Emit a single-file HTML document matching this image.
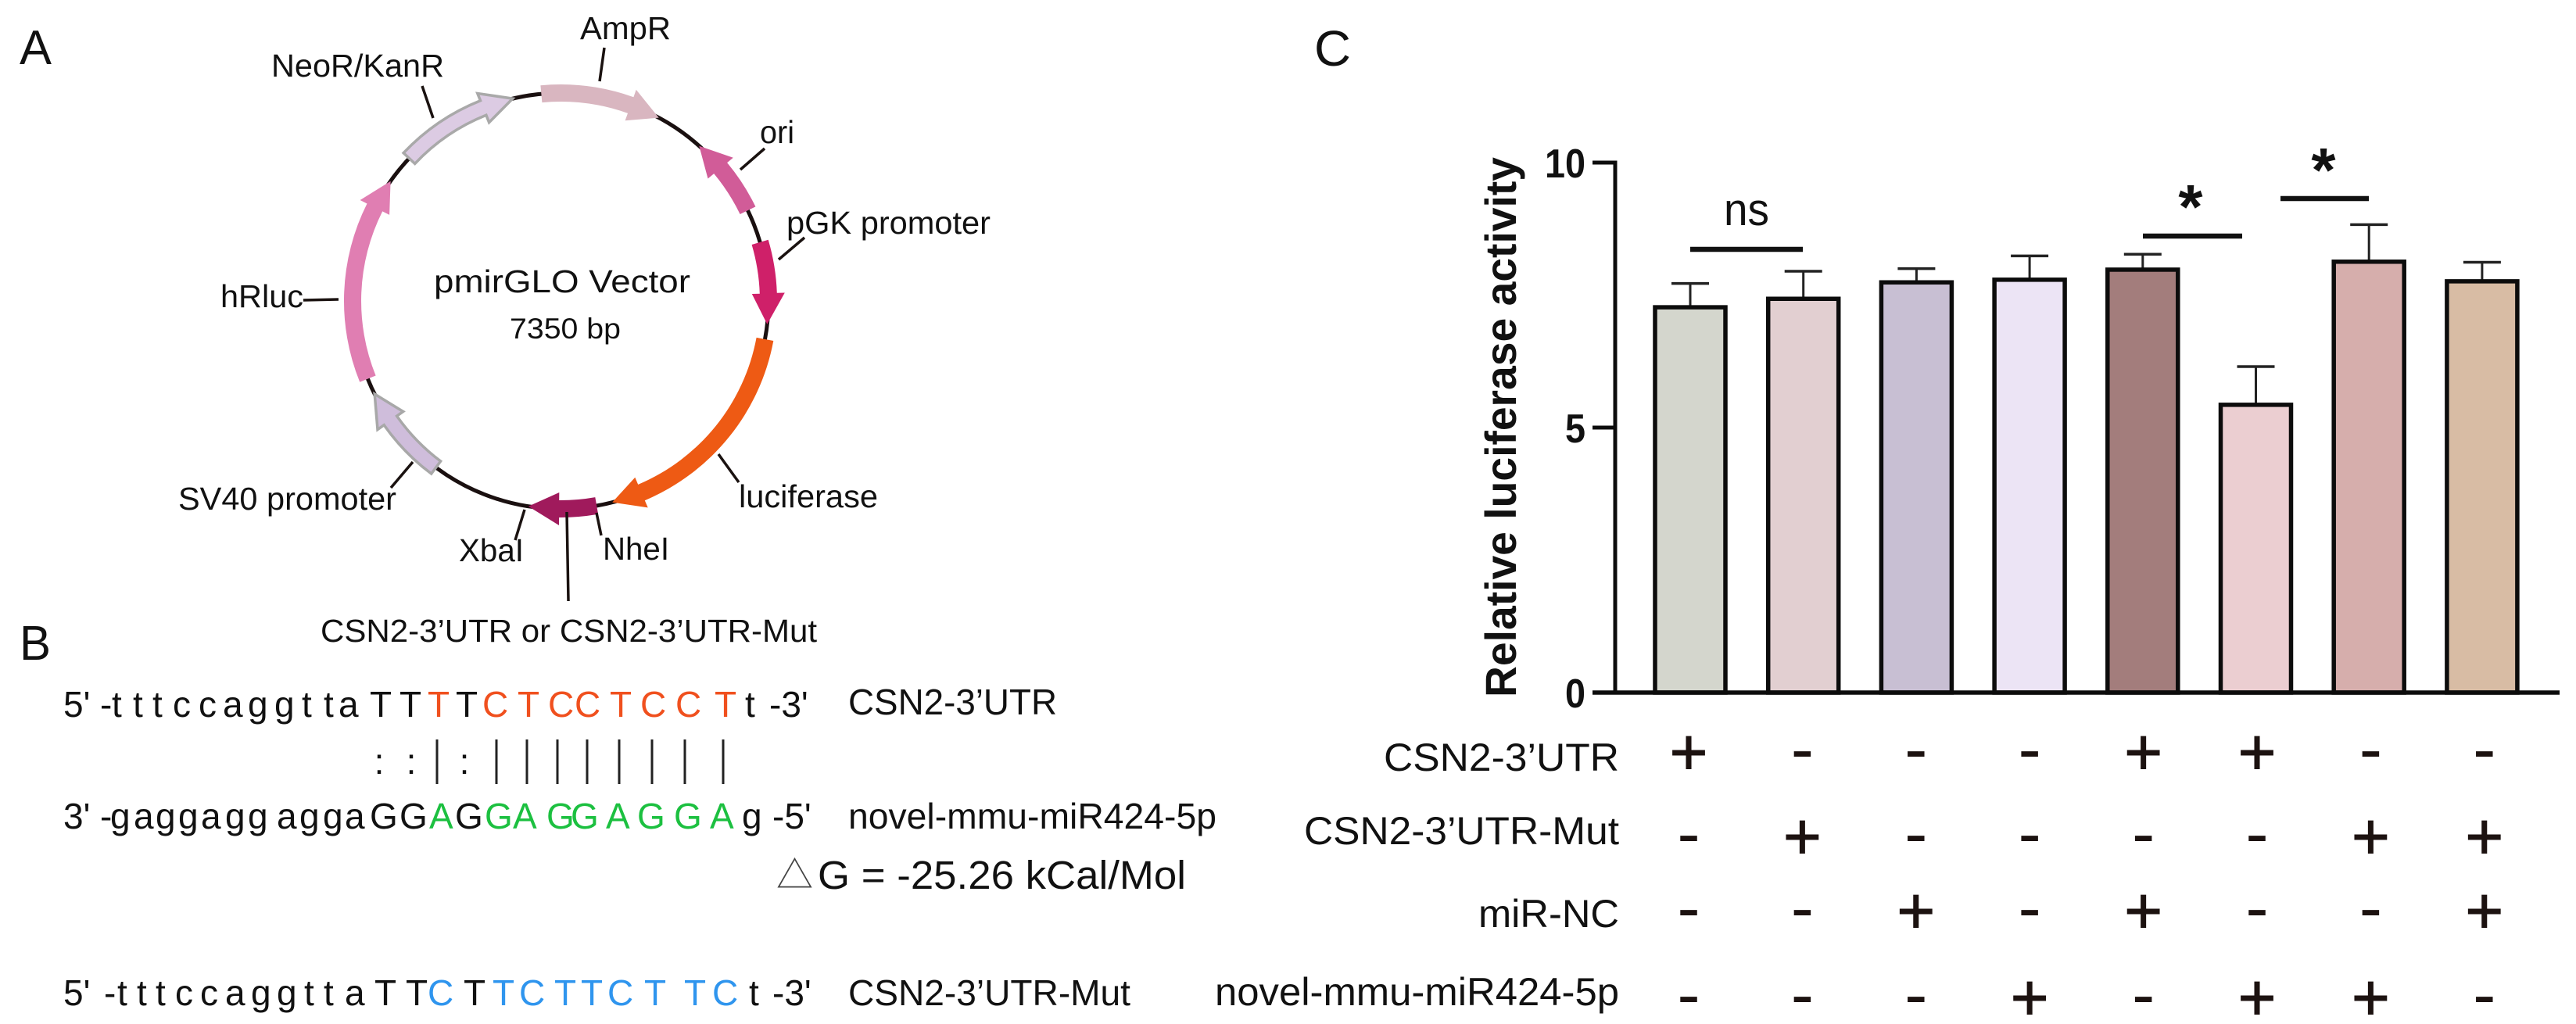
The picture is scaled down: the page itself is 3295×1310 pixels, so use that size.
<!DOCTYPE html>
<html lang="en">
<head>
<meta charset="utf-8">
<title>pmirGLO vector, binding site and luciferase activity</title>
<style>
html,body{margin:0;padding:0;background:#fff;}
svg{display:block;}
text{font-family:"Liberation Sans","Noto Sans CJK SC",sans-serif;fill:#111;}
.lbl{font-size:41px;}
.seq{font-size:46px;}
.leader{stroke:#1a1210;stroke-width:3.5;fill:none;}
.pair{stroke:#222;stroke-width:3;}
.red{fill:#f0501e;}
.grn{fill:#1cc040;}
.blu{fill:#2f95ee;}
</style>
</head>
<body>
<svg id="fig" xmlns="http://www.w3.org/2000/svg" width="3295" height="1310" viewBox="0 0 3295 1310">
<rect width="3295" height="1310" fill="#fff"/>

<g id="panel-a">
  <text x="25" y="82" font-size="62" textLength="41" lengthAdjust="spacingAndGlyphs">A</text>
  <circle cx="717" cy="385" r="266" fill="none" stroke="#1a1010" stroke-width="5"/>
  <g id="features"></g>

  <line class="leader" x1="773" y1="61" x2="767" y2="104"/>
  <line class="leader" x1="540" y1="110" x2="554" y2="151"/>
  <line class="leader" x1="978" y1="190" x2="947" y2="217"/>
  <line class="leader" x1="1029" y1="304" x2="996" y2="332"/>
  <line class="leader" x1="388" y1="384" x2="433" y2="383"/>
  <line class="leader" x1="919" y1="581" x2="945" y2="617"/>
  <line class="leader" x1="528" y1="591" x2="500" y2="624"/>
  <line class="leader" x1="671" y1="652" x2="659" y2="691"/>
  <line class="leader" x1="763" y1="656" x2="769" y2="685"/>
  <line class="leader" x1="725" y1="655" x2="727" y2="769"/>

  <text class="lbl" x="742" y="50" textLength="116" lengthAdjust="spacingAndGlyphs">AmpR</text>
  <text class="lbl" x="347" y="98" textLength="221" lengthAdjust="spacingAndGlyphs">NeoR/KanR</text>
  <text class="lbl" x="972" y="183" textLength="44" lengthAdjust="spacingAndGlyphs">ori</text>
  <text class="lbl" x="1006" y="299" textLength="261" lengthAdjust="spacingAndGlyphs">pGK promoter</text>
  <text class="lbl" x="555" y="374" textLength="328" lengthAdjust="spacingAndGlyphs">pmirGLO Vector</text>
  <text class="lbl" x="652" y="433" style="font-size:37px" textLength="142" lengthAdjust="spacingAndGlyphs">7350 bp</text>
  <text class="lbl" x="282" y="393" textLength="106" lengthAdjust="spacingAndGlyphs">hRluc</text>
  <text class="lbl" x="945" y="649" textLength="178" lengthAdjust="spacingAndGlyphs">luciferase</text>
  <text class="lbl" x="228" y="652" textLength="279" lengthAdjust="spacingAndGlyphs">SV40 promoter</text>
  <text class="lbl" x="587" y="718" textLength="83" lengthAdjust="spacingAndGlyphs">XbaI</text>
  <text class="lbl" x="771" y="716" textLength="85" lengthAdjust="spacingAndGlyphs">NheI</text>
  <text class="lbl" x="410" y="821" textLength="635" lengthAdjust="spacingAndGlyphs">CSN2-3’UTR or CSN2-3’UTR-Mut</text>
</g>

<g id="panel-b">
  <text x="25" y="844" font-size="62" textLength="40" lengthAdjust="spacingAndGlyphs">B</text>

  <text class="seq" y="917"><tspan x="81">5'</tspan><tspan x="128 143 170 195 221 254 285 317 351 386 414 433 473 511">-tttccaggttaTT</tspan><tspan class="red" x="547">T</tspan><tspan x="583">T</tspan><tspan class="red" x="617 662 701 735 780 819 864 914">CTCCTCCT</tspan><tspan x="953">t</tspan><tspan x="984">-3'</tspan></text>

  <g>
    <text x="485" y="990" font-size="46" text-anchor="middle">:</text>
    <text x="526" y="990" font-size="46" text-anchor="middle">:</text>
    <text x="594" y="990" font-size="46" text-anchor="middle">:</text>
    <line class="pair" x1="559" y1="946" x2="559" y2="1003"/>
    <line class="pair" x1="635" y1="946" x2="635" y2="1003"/>
    <line class="pair" x1="674" y1="946" x2="674" y2="1003"/>
    <line class="pair" x1="713" y1="946" x2="713" y2="1003"/>
    <line class="pair" x1="751" y1="946" x2="751" y2="1003"/>
    <line class="pair" x1="792" y1="946" x2="792" y2="1003"/>
    <line class="pair" x1="834" y1="946" x2="834" y2="1003"/>
    <line class="pair" x1="876" y1="946" x2="876" y2="1003"/>
    <line class="pair" x1="925" y1="946" x2="925" y2="1003"/>
  </g>

  <text class="seq" y="1060"><tspan x="81">3'</tspan><tspan x="128 141 171 199 228 257 288 317 354 383 413 441 473 511">-gaggaggaggaGG</tspan><tspan class="grn" x="549">A</tspan><tspan x="582">G</tspan><tspan class="grn" x="620 656 699 730 775 815 862 908">GAGGAGGA</tspan><tspan x="949">g</tspan><tspan x="988">-5'</tspan></text>

  <text class="seq" y="1286"><tspan x="81">5'</tspan><tspan x="133 150 175 199 224 256 288 321 354 389 414 441 479 519">-tttccaggttaTT</tspan><tspan class="blu" x="547">C</tspan><tspan x="593">T</tspan><tspan class="blu" x="630 664 709 743 777 824 875 911">TCTTCTTC</tspan><tspan x="958">t</tspan><tspan x="988">-3'</tspan></text>

  <text class="seq" x="1085" y="914" textLength="267" lengthAdjust="spacingAndGlyphs">CSN2-3’UTR</text>
  <text class="seq" x="1085" y="1060" textLength="471" lengthAdjust="spacingAndGlyphs">novel-mmu-miR424-5p</text>
  <text class="seq" x="1085" y="1286" textLength="361" lengthAdjust="spacingAndGlyphs">CSN2-3’UTR-Mut</text>

  <text x="993" y="1136" font-size="47" style="font-family:'Noto Sans CJK SC','Liberation Sans',sans-serif;fill:#444">△</text>
  <text x="1046" y="1137" font-size="51" textLength="471" lengthAdjust="spacingAndGlyphs">G = -25.26 kCal/Mol</text>
</g>

<g id="panel-c">
  <text x="1681" y="84" font-size="64" textLength="47" lengthAdjust="spacingAndGlyphs">C</text>
  <text transform="translate(1939,892) rotate(-90)" font-size="56" font-weight="700" textLength="691" lengthAdjust="spacingAndGlyphs">Relative luciferase activity</text>
  <g id="bars"></g>
  <g id="axes"></g>

  <line x1="2162" y1="319" x2="2306" y2="319" stroke="#111" stroke-width="6.5"/>
  <text x="2205" y="288" font-size="58" textLength="58" lengthAdjust="spacingAndGlyphs">ns</text>
  <line x1="2741" y1="302" x2="2868" y2="302" stroke="#111" stroke-width="6.5"/>
  <text x="2802" y="292" font-size="80" font-weight="700" text-anchor="middle">*</text>
  <line x1="2917" y1="254" x2="3030" y2="254" stroke="#111" stroke-width="6.5"/>
  <text x="2972" y="245" font-size="80" font-weight="700" text-anchor="middle">*</text>

  <text x="1770" y="986" font-size="50" textLength="301" lengthAdjust="spacingAndGlyphs">CSN2-3’UTR</text>
  <text x="1668" y="1080" font-size="50" textLength="403" lengthAdjust="spacingAndGlyphs">CSN2-3’UTR-Mut</text>
  <text x="1891" y="1186" font-size="50" textLength="180" lengthAdjust="spacingAndGlyphs">miR-NC</text>
  <text x="1554" y="1286" font-size="50" textLength="517" lengthAdjust="spacingAndGlyphs">novel-mmu-miR424-5p</text>
  <g id="design"></g>
</g>
</svg>

<script>
// Bar chart data (panel C)
const categories = ['group-1','group-2','group-3','group-4','group-5','group-6','group-7','group-8'];
const meanValues = [7.27, 7.43, 7.74, 7.79, 7.98, 5.43, 8.13, 7.76];
const errorTops = [7.72, 7.95, 8.00, 8.24, 8.27, 6.15, 8.83, 8.12];
const barColors = ['#d4d6cd','#e2cfd1','#c8bfd3','#ece4f5','#a37d7c','#ebced1','#d6aeac','#d8bca4'];
const yTickValues = [0, 5, 10];
const yTickLabels = ['0', '5', '10'];
const rowUtr = ['+','-','-','-','+','+','-','-'];
const rowUtrMut = ['-','+','-','-','-','-','+','+'];
const rowMirNc = ['-','-','+','-','+','-','-','+'];
const rowMirna = ['-','-','-','+','-','+','+','-'];

// Plasmid features: clockwise degrees from 12 o'clock
const featureNames = ['ampr','neor-kanr','ori','pgk-promoter','luciferase','xbai-nhei-insert','sv40-promoter','hrluc'];
const featureTail = [-5.3, -46.7, 64.2, 73.6, 100.6, 170, 216.8, 248];
const featureTip = [28.2, -13.3, 41.8, 96.4, 165.6, 188.9, 243.4, 305.2];
const featureFill = ['#d9b6c0','#dccbe3','#d15c98','#cf2069','#ee5a14','#a01a5c','#cfbddb','#e07eb2'];
const featureStroke = ['none','#a9a9a9','none','none','none','none','#a8a8a8','none'];

const NS = 'http://www.w3.org/2000/svg';
function make(tag, attrs, parent){
  const el = document.createElementNS(NS, tag);
  for (const k in attrs) el.setAttribute(k, attrs[k]);
  parent.appendChild(el);
  return el;
}

// Axis functions
const yBase = 886, yPerUnit = 67.8;
function yScale(v){ return yBase - v * yPerUnit; }
function xBar(i){ return 2162 + i * 144.7; }
function xCol(i){ return 2160 + i * 145.4; }
const barWidth = 90;

const barsG = document.getElementById('bars');
categories.forEach(function(cat, i){
  const cx = xBar(i);
  const err = make('line', {x1:cx, x2:cx, y1:yScale(errorTops[i]), y2:yScale(meanValues[i]), stroke:'#222', 'stroke-width':3}, barsG);
  
  
  const cap = make('line', {x1:cx-24, x2:cx+24, y1:yScale(errorTops[i]), y2:yScale(errorTops[i]), stroke:'#222', 'stroke-width':3.5}, barsG);
  
  
  const bar = make('rect', {x:cx-barWidth/2, y:yScale(meanValues[i]), width:barWidth, height:yBase-yScale(meanValues[i]), fill:barColors[i], stroke:'#0c0c0c', 'stroke-width':5.5}, barsG);
  
  
});

const axesG = document.getElementById('axes');
const yAxisLine = make('line', {x1:2066, x2:2066, y1:yScale(10)-2.5, y2:yBase+2.5, stroke:'#0c0c0c', 'stroke-width':5}, axesG);


const xAxisLine = make('line', {x1:2037, x2:3274, y1:yBase, y2:yBase, stroke:'#0c0c0c', 'stroke-width':5.5}, axesG);


yTickValues.forEach(function(v, i){
  const tick = make('line', {x1:2037, x2:2066, y1:yScale(v), y2:yScale(v), stroke:'#0c0c0c', 'stroke-width':5}, axesG);
  
  
  const label = make('text', {x:2028, y:yScale(v)+19, 'text-anchor':'end', 'font-size':52, 'font-weight':700, textLength:26*yTickLabels[i].length, lengthAdjust:'spacingAndGlyphs'}, axesG);
  
  
  label.textContent = yTickLabels[i];
});

// Treatment design grid
const designRows = [rowUtr, rowUtrMut, rowMirNc, rowMirna];
const rowCenters = [962, 1070, 1165, 1276];
const designG = document.getElementById('design');
designRows.forEach(function(row, r){
  row.forEach(function(sign, c){
    const isPlus = sign === '+';
    const mark = make('text', {x:xCol(c), y:rowCenters[r] + (isPlus ? 29 : 26), 'text-anchor':'middle', 'font-size': isPlus ? 84 : 88, style:'fill:#1c1210;stroke:#1c1210;stroke-width:' + (isPlus ? 1 : 0)}, designG);
    
    
    mark.textContent = sign;
  });
});

// Plasmid arrows
const pcx = 717, pcy = 385, pr = 266;
function polar(deg, rad){
  const a = deg * Math.PI / 180;
  return [pcx + rad * Math.sin(a), pcy - rad * Math.cos(a)];
}
function pt(p){ return p[0].toFixed(1) + ' ' + p[1].toFixed(1); }
function arrowPath(tail, tip, half, headHalf, headDeg){
  const dir = tip > tail ? 1 : -1;
  const neck = tip - dir * headDeg;
  const sweepOut = dir > 0 ? 1 : 0;
  const sweepIn = dir > 0 ? 0 : 1;
  const ro = pr + half, ri = pr - half;
  return 'M' + pt(polar(tail, ro)) +
    ' A' + ro + ' ' + ro + ' 0 0 ' + sweepOut + ' ' + pt(polar(neck, ro)) +
    ' L' + pt(polar(neck, pr + headHalf)) +
    ' L' + pt(polar(tip, pr)) +
    ' L' + pt(polar(neck, pr - headHalf)) +
    ' L' + pt(polar(neck, ri)) +
    ' A' + ri + ' ' + ri + ' 0 0 ' + sweepIn + ' ' + pt(polar(tail, ri)) + ' Z';
}
const featuresG = document.getElementById('features');
featureNames.forEach(function(name, i){
  const outlined = featureStroke[i] !== 'none';
  const path = make('path', {
    d: arrowPath(featureTail[i], featureTip[i], outlined ? 10 : 11, outlined ? 20 : 21, 8.5),
    fill: featureFill[i],
    stroke: featureStroke[i],
    'stroke-width': outlined ? 3.5 : 0,
    'stroke-linejoin': 'miter'
  }, featuresG);
  
  
});
</script>
</body>
</html>
